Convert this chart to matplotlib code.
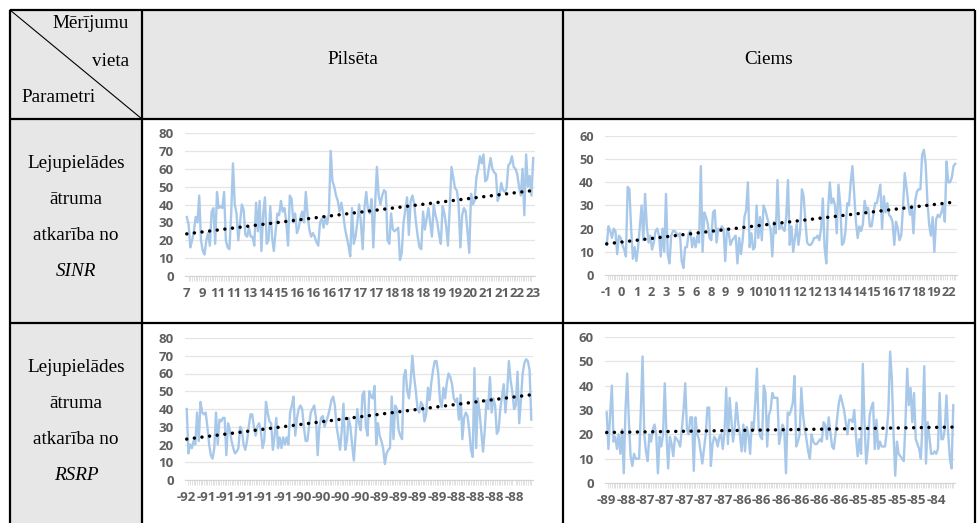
import numpy as np
import matplotlib
matplotlib.use("Agg")
import matplotlib.pyplot as plt

# ---- data -------------------------------------------------------------
sinr_city = [33,29,16,20,25,33,30,45,20,14,12,20,24,17,36,38,18,47,38,39,38,47,20,16,15,35,63,40,35,20,
             30,40,37,23,22,27,22,22,17,41,25,42,14,35,44,18,20,39,22,14,25,35,34,42,36,38,30,17,45,43,
             30,35,24,27,33,36,30,47,34,26,22,24,22,19,17,30,32,27,33,29,35,70,53,50,45,42,36,41,35,27,
             22,17,11,38,18,22,30,40,30,15,38,47,37,35,43,16,40,61,45,40,45,48,47,20,18,35,26,25,26,27,
             9,13,30,37,44,23,42,45,40,30,22,16,15,36,26,32,38,30,22,40,34,30,23,18,39,35,28,17,38,61,
             55,49,48,40,16,34,38,36,25,13,46,40,42,55,60,67,63,68,53,54,60,66,60,58,57,42,45,52,48,47,
             49,62,63,67,61,60,57,50,45,60,34,68,50,56,45,66]
sinr_city_labels = ['7','9','11','11','13','14','15','16','16','16','17','17','17','18','18','18',
                    '19','19','20','21','21','22','23']

sinr_village = [13,21,19,16,20,19,9,17,16,13,11,8,38,37,20,7,12,6,12,21,30,15,35,21,14,17,11,14,19,20,
                17,8,20,10,35,9,5,17,19,19,18,17,18,6,3,12,12,18,19,12,16,12,17,14,47,10,27,25,22,16,
                15,27,28,14,20,19,21,20,6,20,18,13,15,16,17,5,16,9,15,25,28,40,12,18,11,12,30,16,25,15,
                30,28,25,22,20,8,23,18,41,20,22,20,19,25,41,13,21,10,16,22,13,19,37,34,23,14,13,13,14,16,
                16,17,15,20,33,12,5,28,40,31,33,30,18,39,30,13,14,19,31,30,40,47,35,23,16,21,19,22,32,28,
                29,21,21,26,31,31,35,39,20,34,27,31,26,25,23,13,23,20,15,17,29,44,38,31,26,30,18,32,36,37,
                37,52,54,48,32,22,17,25,10,24,26,25,27,30,23,49,40,40,42,47,48]
sinr_village_labels = ['-1','0','1','2','3','5','6','8','9','9','10','10','11','12','12','13','14',
                       '14','15','16','17','18','19','22']

rsrp_city = [40,15,20,18,22,20,38,22,44,38,37,38,30,20,14,12,18,38,20,34,33,35,35,14,32,28,22,18,15,16,
             18,30,28,20,17,22,30,37,37,30,25,30,32,28,18,22,44,38,33,32,17,25,35,18,24,18,24,20,24,20,
             38,42,47,25,35,40,42,40,30,22,22,30,38,40,42,35,14,30,35,36,30,33,36,40,45,47,42,30,24,17,
             28,43,17,22,35,30,20,11,25,40,32,28,48,50,30,25,50,47,46,53,20,32,25,22,18,9,15,17,18,47,
             23,42,40,28,25,23,58,62,50,46,56,70,58,50,40,38,44,42,33,37,52,45,55,62,67,67,60,45,41,52,
             46,55,60,58,54,46,44,46,34,48,23,35,38,36,28,17,13,63,18,46,38,27,16,28,45,40,58,38,46,42,
             26,28,40,47,54,38,50,67,56,50,40,42,61,32,45,60,66,68,67,62,34]
rsrp_city_labels = ['-92','-91','-91','-91','-91','-91','-90','-90','-90','-90','-89','-89','-89',
                    '-89','-88','-88','-88','-88']

rsrp_village = [29,14,28,40,17,19,14,20,12,22,4,30,45,25,11,7,12,10,10,10,30,52,20,13,9,20,17,22,24,20,
                4,19,15,20,41,20,6,19,16,11,19,18,17,15,22,30,41,22,20,27,27,5,27,20,18,13,8,14,20,31,
                31,7,16,19,18,15,19,20,14,21,39,16,35,26,17,23,33,25,20,13,24,13,23,20,12,25,22,33,47,22,
                19,18,40,37,15,28,30,37,35,35,35,16,20,24,22,4,29,28,30,33,44,15,17,20,39,28,22,18,13,10,
                20,17,16,16,17,18,17,25,24,18,27,21,15,14,20,27,33,36,33,30,25,20,26,26,25,30,19,11,18,12,
                49,25,8,15,28,31,33,14,26,14,17,15,15,15,21,30,54,43,20,3,17,12,11,10,9,25,47,32,39,25,
                37,18,16,14,10,25,48,8,25,19,12,12,13,12,14,37,18,18,22,36,20,10,6,32]
rsrp_village_labels = ['-89','-88','-87','-87','-87','-87','-87','-86','-86','-86','-86','-86','-86',
                       '-85','-85','-85','-85','-84']

col_headers = ['Pilsēta', 'Ciems']
row_lines = [['Lejupielādes', 'ātruma', 'atkarība no', 'SINR'],
             ['Lejupielādes', 'ātruma', 'atkarība no', 'RSRP']]
corner_top, corner_mid, corner_bottom = 'Mērījumu', 'vieta', 'Parametri'

# ---- figure / table frame (pixel coordinates) --------------------------
W, H = 977, 523
DPI = 100
fig = plt.figure(figsize=(W / DPI, H / DPI), dpi=DPI)
fig.patch.set_facecolor('white')

frame = fig.add_axes([0, 0, 1, 1])
frame.set_xlim(0, W)
frame.set_ylim(H, 0)
frame.axis('off')

GRAY = '#e7e7e7'
xl, xc1, xc2, xr = 10, 142, 563, 975
yt, yr1, yr2, yb = 10, 119, 323, 540

frame.add_patch(plt.Rectangle((xl, yt), xr - xl, yr1 - yt, color=GRAY, zorder=0))
frame.add_patch(plt.Rectangle((xl, yt), xc1 - xl, yb - yt, color=GRAY, zorder=0))

lw_tab = 1.6
for x in (xl, xc1, xc2, xr):
    frame.plot([x, x], [yt, yb], color='black', lw=lw_tab, solid_capstyle='butt', zorder=3)
for y in (yt, yr1, yr2):
    frame.plot([xl, xr], [y, y], color='black', lw=lw_tab, solid_capstyle='butt', zorder=3)
frame.plot([xl, xc1], [yt, yr1], color='black', lw=0.8, zorder=3)

serif = 'Liberation Serif'
fs = 13.8
frame.text(129, 24, corner_top, ha='right', va='center', family=serif, fontsize=fs)
frame.text(129, 61, corner_mid, ha='right', va='center', family=serif, fontsize=fs)
frame.text(21, 97, corner_bottom, ha='left', va='center', family=serif, fontsize=fs)
frame.text((xc1 + xc2) / 2, 60, col_headers[0], ha='center', va='center', family=serif, fontsize=fs)
frame.text((xc2 + xr) / 2, 60, col_headers[1], ha='center', va='center', family=serif, fontsize=fs)

for r, (ytop, lines) in enumerate(zip((yr1, yr2), row_lines)):
    for i, t in enumerate(lines):
        frame.text((xl + xc1) / 2, ytop + 44 + 36 * i, t, ha='center', va='center',
                   family=serif, fontsize=fs, style='italic' if i == 3 else 'normal')

# ---- embedded line charts ----------------------------------------------
TICK_GRAY = '#5f5f5f'
LINE_BLUE = '#a8c8ea'


def px_axes(x0, y0, x1, y1):
    return fig.add_axes([x0 / W, 1 - y1 / H, (x1 - x0) / W, (y1 - y0) / H])


def chart(box, values, labels, ymax, label_span, tick_fs):
    ax = px_axes(*box)
    n = len(values)
    idx = np.arange(n)
    ax.plot(idx, values, color=LINE_BLUE, lw=1.7, zorder=2)
    k, b = np.polyfit(idx, values, 1)
    ends = np.array([0, n - 1])
    ax.plot(ends, k * ends + b, color='black', lw=2.5,
            dashes=(0.01, 2.2), dash_capstyle='round', zorder=3)

    ax.set_xlim(-1, n)
    ax.set_ylim(0, ymax)
    ax.set_yticks(np.arange(0, ymax + 1, 10))
    ax.grid(axis='y', color='#e4e4e4', lw=0.9)
    ax.set_axisbelow(True)

    pos = np.arange(len(labels)) * (n - 1) * label_span / (len(labels) - 1)
    ax.set_xticks(pos)
    ax.set_xticklabels(labels)
    ax.set_xticks(idx, minor=True)
    ax.tick_params(axis='x', which='major', length=0, pad=8)
    ax.tick_params(axis='x', which='minor', length=3.5, width=0.5, color='#d4d4d4')
    ax.tick_params(axis='y', length=0, pad=8)
    for lab in ax.get_xticklabels() + ax.get_yticklabels():
        lab.set_family('Open Sans')
        lab.set_fontweight('bold')
        lab.set_fontsize(tick_fs)
        lab.set_color(TICK_GRAY)
    for s in ('top', 'right', 'left'):
        ax.spines[s].set_visible(False)
    ax.spines['bottom'].set_color('#d4d4d4')
    ax.spines['bottom'].set_linewidth(0.8)
    ax.patch.set_alpha(0)
    return ax


chart((185, 133, 535, 276), sinr_city, sinr_city_labels, 80, 1.0, 9.5)
chart((605, 136, 957, 275), sinr_village, sinr_village_labels, 60, 0.98, 9.2)
chart((185, 338, 533, 480), rsrp_city, rsrp_city_labels, 80, 0.95, 9.5)
chart((605, 337, 955, 483), rsrp_village, rsrp_village_labels, 60, 0.95, 9.5)

fig.savefig('out.png', dpi=DPI)
